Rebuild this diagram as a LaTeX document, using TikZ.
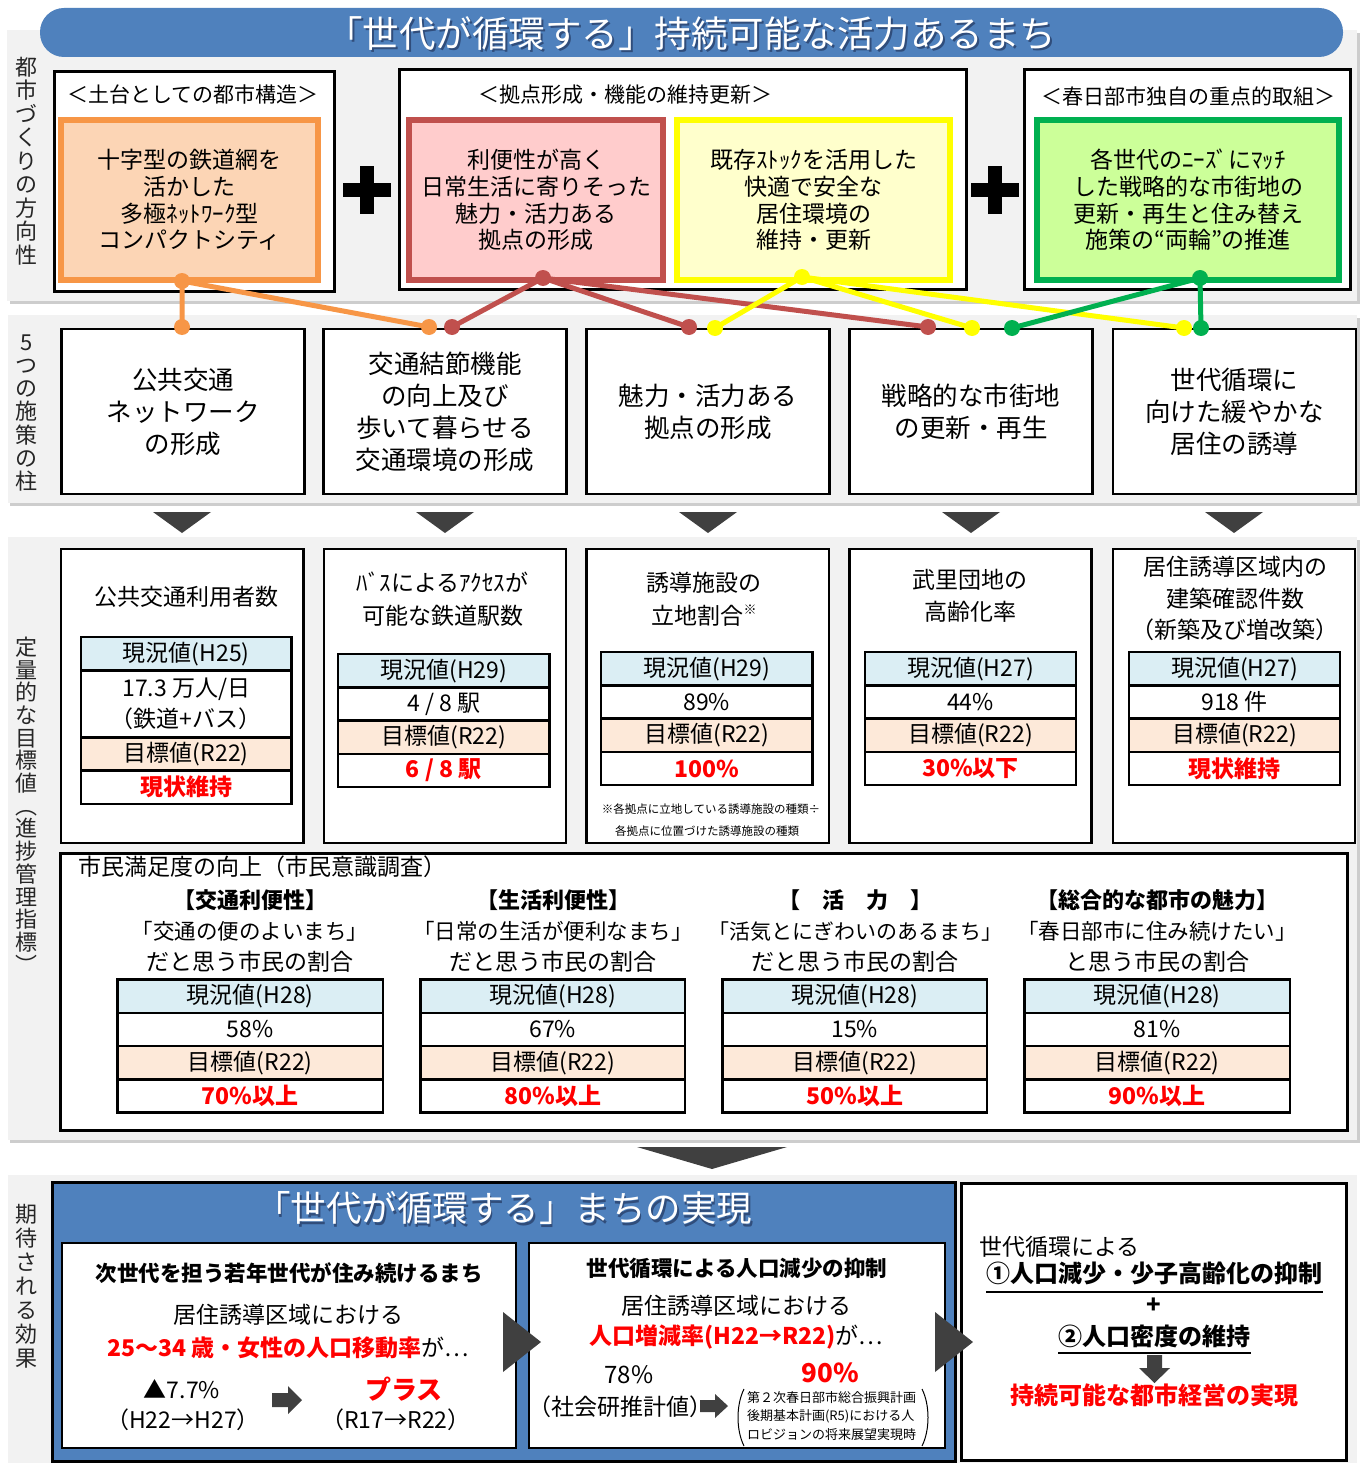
\documentclass[tikz,border=0pt]{standalone}
\usepackage{fontspec}
\setmainfont{Noto Sans CJK JP}
\usetikzlibrary{calc}
\definecolor{bannerblue}{RGB}{79,129,189}
\definecolor{panelgray}{RGB}{242,242,242}
\definecolor{shadowgray}{RGB}{205,205,205}
\definecolor{orangeB}{RGB}{247,150,70}
\definecolor{orangeF}{RGB}{252,213,181}
\definecolor{redB}{RGB}{192,80,77}
\definecolor{redF}{RGB}{255,204,204}
\definecolor{yelB}{RGB}{255,255,0}
\definecolor{yelF}{RGB}{255,255,204}
\definecolor{grnB}{RGB}{0,176,80}
\definecolor{grnF}{RGB}{204,255,153}
\definecolor{arrowgray}{RGB}{64,64,64}
\definecolor{headblue}{RGB}{219,238,244}
\definecolor{headpeach}{RGB}{253,233,217}
\definecolor{txtred}{RGB}{255,0,0}
\definecolor{titleshadow}{RGB}{35,55,95}

\newcommand\fsz[2]{\fontsize{#1}{#2}\selectfont}

\tikzset{
  panel/.style={fill=panelgray},
  panelshadow/.style={fill=shadowgray},
  vlabel/.style={align=center, text=black!85},
  outerbox/.style={draw=black, line width=3, fill=white},
  boxtitle/.style={font=\fsz{21}{24}},
  dirbox/.style={line width=6, align=center, font=\fsz{23}{26.7}},
  pillar/.style={draw=black, line width=2.5, fill=white, minimum width=243, minimum height=165, align=center, font=\fsz{25.5}{32}},
  kpibox/.style={draw=black, line width=2.5, fill=white},
  kpititle/.style={align=center, font=\fsz{23}{32}},
  cell/.style={draw=black, line width=2.5, minimum height=33.3, align=center, font=\fsz{23}{31}},
  cellhead/.style={cell, fill=headblue},
  cellgoal/.style={cell, fill=headpeach},
  cellval/.style={cell, fill=white},
  cellres/.style={cell, fill=white, text=txtred, font=\fsz{23}{31}\bfseries},
  conn/.style={line width=5},
  tri/.style={fill=arrowgray},
  txt/.style={align=center, font=\fsz{23}{31}},
  boldtxt/.style={align=center, font=\fsz{22}{28}\bfseries},
  redbold/.style={align=center, text=txtred, font=\fsz{24}{28}\bfseries},
}

\newcommand\kpitab[8]{%
  \node[cellhead, minimum width=#3, anchor=north west] (#1h) at (#2,#4) {#6};
  \node[cellval, minimum width=#3, minimum height=#5, anchor=north] (#1v) at (#1h.south) {#7};
  \node[cellgoal, minimum width=#3, anchor=north] (#1g) at (#1v.south) {目標値(R22)};
  \node[cellres, minimum width=#3, anchor=north] (#1r) at (#1g.south) {#8};
}

\begin{document}
\begin{tikzpicture}[x=1pt,y=-1pt, every node/.style={inner sep=0pt, outer sep=0pt}]
\useasboundingbox (0,0) rectangle (1362,1463);
\fill[white] (0,0) rectangle (1362,1463);

% ---------- panels ----------
\fill[panelshadow] (10,33) rectangle (1360,304);
\fill[panel] (7,30) rectangle (1357,301);
\fill[panelshadow] (10,318) rectangle (1360,506);
\fill[panel] (8,315) rectangle (1357,503);
\fill[panelshadow] (10,540) rectangle (1360,1143);
\fill[panel] (8,537) rectangle (1357,1140);
\fill[panel] (8,1175) rectangle (1357,1463);

% ---------- banner ----------
\node[fill=bannerblue, rounded corners=24, minimum width=1303, minimum height=49] (banner) at (691.5,32.5) {};
\node[font=\fsz{36.5}{40}, text=titleshadow, opacity=0.7] (bannershadow) at (693,36) {「世代が循環する」持続可能な活力あるまち};
\node[font=\fsz{36.5}{40}, text=white] (bannertext) at (691,34) {「世代が循環する」持続可能な活力あるまち};

% ---------- vertical labels ----------
\node[vlabel, font=\fsz{22}{23.5}] (L1) at (27,161) {都\\市\\づ\\く\\り\\の\\方\\向\\性};
\node[vlabel, font=\fsz{22}{23.3}] (L2) at (27,413) {5\\つ\\の\\施\\策\\の\\柱};
\node[vlabel, font=\fsz{22}{22.7}] (L3) at (27,805) {定\\量\\的\\な\\目\\標\\値\\︵\\進\\捗\\管\\理\\指\\標\\︶};
\node[vlabel, font=\fsz{22}{24}] (L4) at (27,1286) {期\\待\\さ\\れ\\る\\効\\果};

% ---------- section 1 ----------
\node[outerbox, minimum width=280, minimum height=220] (boxA) at (194,181.5) {};
\node[outerbox, minimum width=567.5, minimum height=220] (boxB) at (683,179.5) {};
\node[outerbox, minimum width=326, minimum height=220] (boxC) at (1187,179.5) {};
\node[boxtitle] (tA) at (193,95) {＜土台としての都市構造＞};
\node[boxtitle] (tB) at (625,95) {＜拠点形成・機能の維持更新＞};
\node[boxtitle] (tC) at (1188,97) {＜春日部市独自の重点的取組＞};

\node[dirbox, draw=orangeB, fill=orangeF, minimum width=257, minimum height=160] (dO) at (189.5,200) {十字型の鉄道網を\\活かした\\多極ﾈｯﾄﾜｰｸ型\\コンパクトシティ};
\node[dirbox, draw=redB, fill=redF, minimum width=254, minimum height=160] (dR) at (536,200) {利便性が高く\\日常生活に寄りそった\\魅力・活力ある\\拠点の形成};
\node[dirbox, draw=yelB, fill=yelF, minimum width=273, minimum height=160] (dY) at (813.5,200) {既存ｽﾄｯｸを活用した\\快適で安全な\\居住環境の\\維持・更新};
\node[dirbox, draw=grnB, fill=grnF, minimum width=302, minimum height=160] (dG) at (1188,200) {各世代のﾆｰｽﾞにﾏｯﾁ\\した戦略的な市街地の\\更新・再生と住み替え\\施策の“両輪”の推進};

% plus signs
\fill (343,183) rectangle (391,197);
\fill (360,166) rectangle (374,214);
\fill (971,183) rectangle (1019,197);
\fill (988,166) rectangle (1002,214);

% ---------- section 2 ----------
\node[pillar] (P1) at (183,411.5) {公共交通\\ネットワーク\\の形成};
\node[pillar] (P2) at (445,411.5) {交通結節機能\\の向上及び\\歩いて暮らせる\\交通環境の形成};
\node[pillar] (P3) at (708,411.5) {魅力・活力ある\\拠点の形成};
\node[pillar] (P4) at (971,411.5) {戦略的な市街地\\の更新・再生};
\node[pillar] (P5) at (1234.5,411.5) {世代循環に\\向けた緩やかな\\居住の誘導};

% connectors
\coordinate (oT) at (182,281);
\coordinate (oA) at (182,327);
\coordinate (oB) at (429,327);
\coordinate (rT) at (543,278);
\coordinate (rA) at (452,327);
\coordinate (rB) at (689,327);
\coordinate (rC) at (928,327);
\coordinate (yT) at (802,277);
\coordinate (yA) at (715,328);
\coordinate (yB) at (972,328);
\coordinate (yC) at (1184,328);
\coordinate (gT) at (1200,278);
\coordinate (gA) at (1012,328);
\coordinate (gB) at (1201,328);
\draw[conn, orangeB] (oT) -- (oA) (oT) -- (oB);
\draw[conn, redB] (rT) -- (rA) (rT) -- (rB) (rT) -- (rC);
\draw[conn, yelB] (yT) -- (yA) (yT) -- (yB) (yT) -- (yC);
\draw[conn, grnB] (gT) -- (gA) (gT) -- (gB);
\foreach \p in {oT,oA,oB} \fill[orangeB] (\p) circle[radius=8];
\foreach \p in {rT,rA,rB,rC} \fill[redB] (\p) circle[radius=8];
\foreach \p in {yT,yA,yB,yC} \fill[yelB] (\p) circle[radius=8];
\foreach \p in {gT,gA,gB} \fill[grnB] (\p) circle[radius=8];

% down triangles
\foreach \cx in {182,445,708,971,1234} {
  \fill[tri] ({\cx-29},512) -- ({\cx+29},512) -- (\cx,533) -- cycle;
}

% ---------- section 3 ----------
\node[kpibox, minimum width=242.5, minimum height=294] (K1) at (182.3,696) {};
\node[kpibox, minimum width=242, minimum height=294] (K2) at (445,696) {};
\node[kpibox, minimum width=242.5, minimum height=294] (K3) at (707.8,696) {};
\node[kpibox, minimum width=242, minimum height=294] (K4) at (970.5,696) {};
\node[kpibox, minimum width=242, minimum height=294] (K5) at (1234,696) {};

\node[kpititle] (k1t) at (186,597) {公共交通利用者数};
\node[kpititle, font=\fsz{23}{33}] (k2t) at (442.5,599.5) {ﾊﾞｽによるｱｸｾｽが\\可能な鉄道駅数};
\node[kpititle, font=\fsz{23}{33}] (k3t) at (704,599.5) {誘導施設の\\立地割合\raisebox{0.45em}{\fsz{13}{13}※}};
\node[kpititle] (k4t) at (970,596) {武里団地の\\高齢化率};
\node[kpititle, font=\fsz{23}{31.5}] (k5t) at (1235,598.5) {居住誘導区域内の\\建築確認件数\\（新築及び増改築）};
\node[font=\fsz{11.5}{13}] (k3n1) at (711,809) {※各拠点に立地している誘導施設の種類÷};
\node[font=\fsz{11.5}{13}] (k3n2) at (707,831) {各拠点に位置づけた誘導施設の種類};

\kpitab{t1}{81}{210.5}{637}{67}{現況値(H25)}{17.3 万人/日\\（鉄道+バス）}{現状維持}
\kpitab{t2}{338}{211.5}{654}{33.3}{現況値(H29)}{4 / 8 駅}{6 / 8 駅}
\kpitab{t3}{601}{211.5}{652}{33.3}{現況値(H29)}{89\%}{100\%}
\kpitab{t4}{865}{211}{652}{33.3}{現況値(H27)}{44\%}{30\%以下}
\kpitab{t5}{1129}{211}{652}{33.3}{現況値(H27)}{918 件}{現状維持}

% satisfaction box
\node[draw=black, line width=3, fill=white, minimum width=1287, minimum height=277] (S) at (703.5,991.5) {};
\node[anchor=west, font=\fsz{23}{28}] (St) at (78,867) {市民満足度の向上（市民意識調査）};

\node[boldtxt] (s1a) at (250,900) {【交通利便性】};
\node[txt] (s1b) at (250,947) {{\fsz{21.5}{31}「交通の便のよいまち」}\\だと思う市民の割合};
\node[boldtxt] (s2a) at (553,900) {【生活利便性】};
\node[txt] (s2b) at (553,947) {{\fsz{21.5}{31}「日常の生活が便利なまち」}\\だと思う市民の割合};
\node[boldtxt] (s3a) at (855,900) {【　活　力　】};
\node[txt] (s3b) at (855,947) {{\fsz{21}{31}「活気とにぎわいのあるまち」}\\だと思う市民の割合};
\node[boldtxt] (s4a) at (1157,900) {【総合的な都市の魅力】};
\node[txt] (s4b) at (1157,947) {{\fsz{21.5}{31}「春日部市に住み続けたい」}\\と思う市民の割合};

\kpitab{u1}{117.5}{265.5}{979.5}{33.3}{現況値(H28)}{58\%}{70\%以上}
\kpitab{u2}{420.5}{264.5}{979.5}{33.3}{現況値(H28)}{67\%}{80\%以上}
\kpitab{u3}{722.5}{264.5}{979.5}{33.3}{現況値(H28)}{15\%}{50\%以上}
\kpitab{u4}{1024.5}{265.5}{979.5}{33.3}{現況値(H28)}{81\%}{90\%以上}

% big down triangle
\fill[tri] (637,1147) -- (787,1147) -- (712,1169) -- cycle;

% ---------- section 4 ----------
\node[draw=black, line width=3, fill=bannerblue, minimum width=903, minimum height=279] (blue) at (503.5,1322) {};
\node[font=\fsz{35.5}{38}, text=titleshadow, opacity=0.7] (blueshadow) at (505,1210.5) {「世代が循環する」まちの実現};
\node[font=\fsz{35.5}{38}, text=white] (bluetitle) at (503.5,1208) {「世代が循環する」まちの実現};

\node[draw=black, line width=2.5, fill=white, minimum width=454, minimum height=205] (B1) at (289,1345.5) {};
\node[draw=black, line width=2.5, fill=white, minimum width=416, minimum height=205] (B2) at (737,1345.5) {};
\node[draw=black, line width=3, fill=white, minimum width=385.5, minimum height=277] (B3) at (1154,1321.5) {};

% box 1
\node[boldtxt, font=\fsz{21.5}{26}\bfseries] (b1t) at (289,1273) {次世代を担う若年世代が住み続けるまち};
\node[txt] (b1a) at (288,1315) {居住誘導区域における};
\node[txt] (b1b) at (288,1348) {{\bfseries\color{txtred}25～34 歳・女性の人口移動率}が…};
\node[txt] (b1c) at (182,1389) {▲7.7\%};
\node[txt] (b1d) at (183,1420) {（H22→H27）};
\node[redbold, font=\fsz{26}{30}\bfseries] (b1e) at (404,1389) {プラス};
\node[txt] (b1f) at (396,1420) {（R17→R22）};
\fill[tri] (272,1393) -- (288,1393) -- (288,1386) -- (302,1400) -- (288,1414) -- (288,1407) -- (272,1407) -- cycle;

% box 2
\node[boldtxt, font=\fsz{21.5}{26}\bfseries] (b2t) at (737,1268) {世代循環による人口減少の抑制};
\node[txt] (b2a) at (736,1306) {居住誘導区域における};
\node[txt] (b2b) at (736,1337) {{\bfseries\color{txtred}人口増減率(H22→R22)}が…};
\node[txt, font=\fsz{24}{28}] (b2c) at (629,1375) {78\%};
\node[txt] (b2d) at (620,1407) {（社会研推計値）};
\node[redbold, font=\fsz{26}{30}\bfseries] (b2e) at (830,1373) {90\%};
\node[anchor=west, align=left, font=\fsz{13}{18.5}] (b2f) at (747,1416) {第２次春日部市総合振興計画\\後期基本計画(R5)における人\\ロビジョンの将来展望実現時};
\draw[line width=1] (744,1389) .. controls (736,1405) and (736,1430) .. (744,1446);
\draw[line width=1] (922,1389) .. controls (930,1405) and (930,1430) .. (922,1446);
\fill[tri] (700,1400) -- (715,1400) -- (715,1394) -- (728,1406) -- (715,1418) -- (715,1412) -- (700,1412) -- cycle;

% box 3
\node[anchor=west, font=\fsz{23}{28}] (b3a) at (979,1247) {世代循環による};
\node[boldtxt, font=\fsz{24}{28}\bfseries] (b3b) at (1154,1273) {①人口減少・少子高齢化の抑制};
\draw[line width=2] (986,1292) -- (1323,1292);
\node[boldtxt, font=\fsz{24}{28}\bfseries] (b3c) at (1154,1306) {+};
\node[boldtxt, font=\fsz{24}{28}\bfseries] (b3d) at (1154,1336) {②人口密度の維持};
\draw[line width=2] (1058,1353) -- (1251,1353);
\fill[tri] (1147,1355) -- (1162,1355) -- (1162,1368) -- (1170,1368) -- (1154.5,1383) -- (1139,1368) -- (1147,1368) -- cycle;
\node[redbold] (b3e) at (1154,1395) {持続可能な都市経営の実現};

% right triangles between boxes
\fill[tri] (503,1312) -- (541,1342) -- (503,1372) -- cycle;
\fill[tri] (935,1312) -- (973,1342) -- (935,1372) -- cycle;

\end{tikzpicture}
\end{document}
